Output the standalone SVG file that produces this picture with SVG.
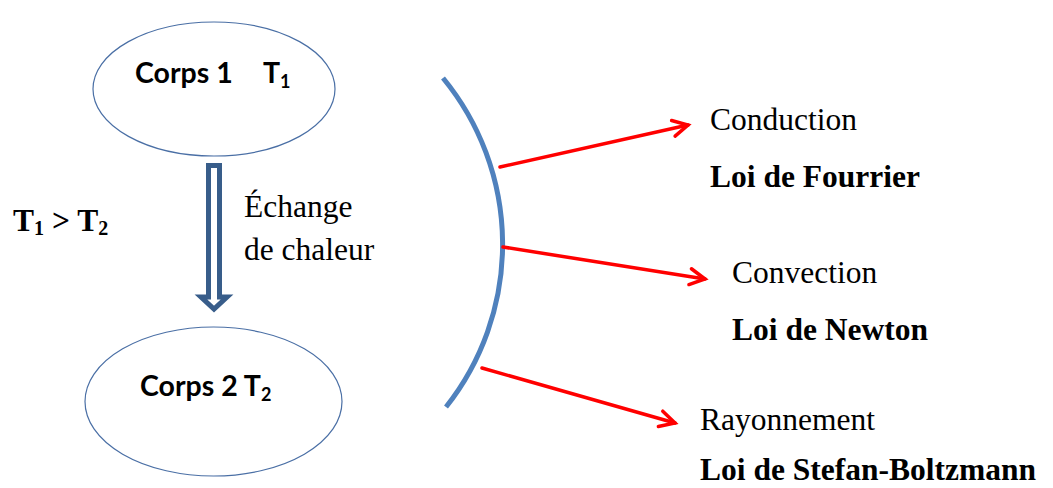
<svg xmlns="http://www.w3.org/2000/svg" width="1053" height="488" viewBox="0 0 1053 488">
<defs>
<style>
.ell{fill:#ffffff;stroke:#4a6fa5;stroke-width:1.2}
.lbl{font-family:Lato,"Open Sans","Liberation Sans",sans-serif;font-weight:bold;font-size:28.5px;fill:#000}
.sub{font-size:18px}
.ser{font-family:"Liberation Serif","Times New Roman",serif;font-size:31.5px;fill:#000}
.b{font-weight:bold}
.red{stroke:#ff0000;stroke-width:3.5;fill:none;stroke-linecap:round}
</style>
<marker id="chev" markerUnits="userSpaceOnUse" viewBox="-20 -12 24 24" refX="0" refY="0" markerWidth="24" markerHeight="24" orient="auto">
<path d="M-15,-8 L0,0 L-15,8" fill="none" stroke="#ff0000" stroke-width="3.5" stroke-linecap="round" stroke-linejoin="miter"/>
</marker>
</defs>
<rect width="1053" height="488" fill="#ffffff"/>
<g id="corps1">
<ellipse class="ell" cx="214" cy="89" rx="121" ry="67"/>
<text class="lbl" x="135" y="83">Corps 1</text>
<text class="lbl" x="263" y="83">T<tspan class="sub" dy="5">1</tspan></text>
</g>
<g id="corps2">
<ellipse class="ell" cx="213.5" cy="401.5" rx="128.5" ry="74.5"/>
<text class="lbl" x="140" y="396">Corps 2 T<tspan class="sub" dy="5">2</tspan></text>
</g>
<g id="condition">
<text class="ser b" x="13" y="231" font-size="32">T<tspan font-size="20" dy="4">1</tspan><tspan dy="-4"> &gt; T</tspan><tspan font-size="20" dy="4">2</tspan></text>
</g>
<g id="echange">
<text class="ser" x="244" y="217">Échange</text>
<text class="ser" x="244" y="260">de chaleur</text>
</g>
<g id="surface">
<path d="M443,78 A262,262 0 0 1 446,407" fill="none" stroke="#4f81bd" stroke-width="5"/>
</g>
<g id="connectors">
<polygon points="208.5,165.5 219.5,165.5 219.5,297 227,297 214,309 201,297 208.5,297" fill="#ffffff" stroke="#385d8a" stroke-width="5" stroke-linejoin="miter"/>
<line class="red" x1="500" y1="167" x2="688" y2="125" marker-end="url(#chev)"/>
<line class="red" x1="503" y1="247" x2="705" y2="279" marker-end="url(#chev)"/>
<line class="red" x1="482" y1="368" x2="675" y2="423" marker-end="url(#chev)"/>
</g>
<g id="conduction">
<text class="ser" x="710" y="130">Conduction</text>
<text class="ser b" x="710" y="187">Loi de Fourrier</text>
</g>
<g id="convection">
<text class="ser" x="732" y="283">Convection</text>
<text class="ser b" x="732" y="340">Loi de Newton</text>
</g>
<g id="rayonnement">
<text class="ser" x="700" y="430">Rayonnement</text>
<text class="ser b" x="700" y="480">Loi de Stefan-Boltzmann</text>
</g>
</svg>
